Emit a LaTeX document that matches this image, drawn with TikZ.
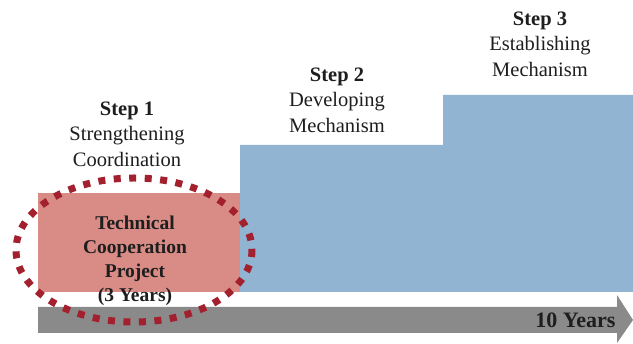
\documentclass[tikz,border=0pt]{standalone}
\usepackage{fontspec}
\setmainfont{Liberation Serif}
\definecolor{redfill}{HTML}{D98C86}
\definecolor{bluefill}{HTML}{90B4D2}
\definecolor{grayarrow}{HTML}{8A8A8A}
\definecolor{dotred}{HTML}{A3212E}
\definecolor{txt}{HTML}{1E1E1E}
\begin{document}
\begin{tikzpicture}[x=1pt,y=-1pt,
  steplabel/.style={align=center,text=txt,font=\fontsize{20.5}{25.5}\selectfont},
  boxlabel/.style={align=center,text=txt,font=\fontsize{19.5}{23.8}\selectfont\bfseries},
]
\useasboundingbox (0,0) rectangle (633,344);
% blue steps
\fill[bluefill] (240,145) -- (443,145) -- (443,95) -- (633,95) -- (633,292) -- (240,292) -- cycle;
% red box
\fill[redfill] (38,193) rectangle (240,292);
% arrow
\fill[grayarrow] (38,307) -- (617,307) -- (617,295) -- (633,320) -- (617,343) -- (617,333) -- (38,333) -- cycle;
\node[font=\fontsize{22}{24}\selectfont\bfseries,text=txt,anchor=east] (ten) at (619,320) {10 Years};
% box text
\node[boxlabel] (tcp) at (135,261) {Technical\\Cooperation\\Project\\(3 Years)};
% dotted ellipse
\draw[dotred,line width=7pt,dash pattern=on 7pt off 8.5pt] (134,250) ellipse [x radius=118, y radius=72];
% step labels
\node[steplabel] (s1) at (127,134) {\textbf{Step 1}\\Strengthening\\Coordination};
\node[steplabel] (s2) at (337,100) {\textbf{Step 2}\\Developing\\Mechanism};
\node[steplabel] (s3) at (540,44) {\textbf{Step 3}\\Establishing\\Mechanism};
\end{tikzpicture}
\end{document}
